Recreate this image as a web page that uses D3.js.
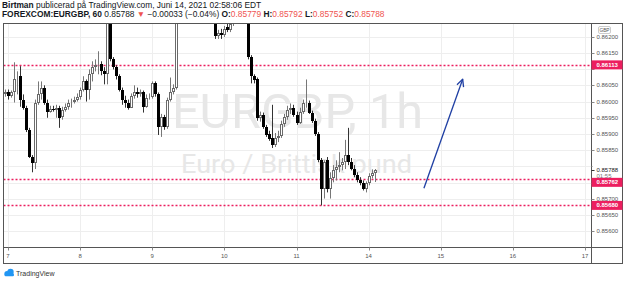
<!DOCTYPE html>
<html><head><meta charset="utf-8">
<script src="https://cdnjs.cloudflare.com/ajax/libs/d3/7.8.5/d3.min.js"></script>
<style>html,body{margin:0;padding:0;background:#fff;}svg{display:block;}</style>
</head><body>
<svg id="c" width="625" height="283"></svg>
<script>
// ---------- DATA (hourly FOREXCOM:EURGBP, bar index 0 = June 7 00:00) ----------
const firstBar = -1;
const opens = [0.86022,0.86028,0.86018,0.86028,0.86068,0.86078,0.86006,0.85981,0.85913,0.85829,0.85810,0.85997,0.86022,0.86043,0.85997,0.85969,0.85978,0.85975,0.85981,0.85953,0.85975,0.85984,0.85994,0.86000,0.86006,0.86015,0.86037,0.86062,0.86037,0.86084,0.86106,0.86112,0.86115,0.86093,0.86084,0.86320,0.86130,0.86106,0.86078,0.86037,0.86006,0.85994,0.85981,0.86018,0.86028,0.86022,0.86028,0.85984,0.86012,0.86015,0.86056,0.86022,0.85922,0.85953,0.85922,0.86006,0.86028,0.86043,0.86300,0.86320,0.86345,0.86360,0.86340,0.86350,0.86380,0.86370,0.86340,0.86320,0.86300,0.86285,0.86275,0.86202,0.86211,0.86205,0.86230,0.86221,0.86239,0.86270,0.86295,0.86310,0.86300,0.86290,0.86137,0.86078,0.86068,0.85950,0.85959,0.85922,0.85900,0.85888,0.85866,0.85888,0.85894,0.85931,0.85953,0.85975,0.85981,0.85959,0.85934,0.85969,0.85994,0.85997,0.85966,0.85941,0.85900,0.85819,0.85732,0.85819,0.85729,0.85763,0.85788,0.85798,0.85804,0.85813,0.85835,0.85813,0.85792,0.85773,0.85757,0.85748,0.85732,0.85748,0.85770,0.85779];
const highs = [0.86037,0.86037,0.86034,0.86121,0.86093,0.86109,0.86022,0.85987,0.85919,0.85835,0.86006,0.86062,0.86062,0.86050,0.86006,0.85987,0.85987,0.85990,0.85987,0.85984,0.85994,0.86006,0.86009,0.86015,0.86025,0.86043,0.86078,0.86068,0.86099,0.86124,0.86130,0.86155,0.86124,0.86106,0.86350,0.86340,0.86137,0.86112,0.86084,0.86043,0.86018,0.86006,0.86025,0.86050,0.86043,0.86037,0.86034,0.86022,0.86025,0.86062,0.86062,0.86028,0.85962,0.85959,0.86012,0.86074,0.86053,0.86320,0.86340,0.86360,0.86380,0.86390,0.86370,0.86400,0.86410,0.86390,0.86360,0.86345,0.86320,0.86300,0.86290,0.86221,0.86224,0.86233,0.86239,0.86261,0.86301,0.86310,0.86330,0.86340,0.86320,0.86310,0.86143,0.86084,0.86074,0.85969,0.85966,0.85928,0.85910,0.85990,0.85903,0.85910,0.85941,0.85962,0.85987,0.85994,0.85990,0.85969,0.85981,0.86006,0.86068,0.86003,0.85972,0.85947,0.85906,0.85826,0.85819,0.85829,0.85782,0.85804,0.85819,0.85844,0.85826,0.85882,0.85919,0.85826,0.85804,0.85782,0.85767,0.85757,0.85754,0.85779,0.85791,0.85792];
const lows = [0.86015,0.86006,0.86012,0.85997,0.86022,0.85984,0.85975,0.85906,0.85826,0.85782,0.85792,0.85990,0.86006,0.85990,0.85950,0.85966,0.85969,0.85950,0.85919,0.85944,0.85969,0.85975,0.85981,0.85994,0.86000,0.86006,0.86031,0.86000,0.86006,0.86062,0.86093,0.86084,0.86081,0.86053,0.86053,0.86124,0.86099,0.86068,0.86031,0.85990,0.85981,0.85975,0.85981,0.86009,0.86012,0.86015,0.85966,0.85981,0.86006,0.86009,0.86015,0.85897,0.85891,0.85913,0.85916,0.86000,0.86022,0.86037,0.86275,0.86300,0.86320,0.86330,0.86310,0.86330,0.86350,0.86330,0.86300,0.86290,0.86270,0.86262,0.86193,0.86193,0.86193,0.86199,0.86214,0.86214,0.86233,0.86255,0.86280,0.86290,0.86270,0.86130,0.86056,0.86056,0.85941,0.85938,0.85916,0.85891,0.85879,0.85857,0.85860,0.85875,0.85888,0.85922,0.85944,0.85962,0.85953,0.85928,0.85931,0.85962,0.85981,0.85962,0.85934,0.85894,0.85813,0.85680,0.85701,0.85720,0.85701,0.85751,0.85757,0.85782,0.85788,0.85792,0.85804,0.85788,0.85767,0.85751,0.85742,0.85726,0.85720,0.85742,0.85763,0.85752];
const closes = [0.86028,0.86018,0.86028,0.86068,0.86074,0.86006,0.85981,0.85913,0.85829,0.85810,0.85997,0.86022,0.86043,0.85997,0.85969,0.85978,0.85975,0.85981,0.85950,0.85975,0.85984,0.85994,0.86000,0.86006,0.86015,0.86037,0.86062,0.86037,0.86084,0.86106,0.86112,0.86115,0.86093,0.86084,0.86320,0.86130,0.86106,0.86078,0.86037,0.86006,0.85994,0.85981,0.86018,0.86028,0.86022,0.86028,0.85984,0.86012,0.86015,0.86056,0.86022,0.85922,0.85953,0.85922,0.86006,0.86028,0.86043,0.86300,0.86320,0.86345,0.86360,0.86340,0.86350,0.86380,0.86370,0.86340,0.86320,0.86300,0.86285,0.86275,0.86202,0.86211,0.86205,0.86224,0.86221,0.86239,0.86270,0.86295,0.86310,0.86300,0.86290,0.86137,0.86078,0.86065,0.85950,0.85959,0.85922,0.85897,0.85885,0.85866,0.85888,0.85894,0.85931,0.85953,0.85975,0.85981,0.85959,0.85934,0.85969,0.85994,0.85997,0.85966,0.85941,0.85900,0.85819,0.85732,0.85813,0.85729,0.85763,0.85788,0.85798,0.85804,0.85813,0.85835,0.85813,0.85792,0.85773,0.85757,0.85748,0.85732,0.85748,0.85770,0.85779,0.85788];

const dayTicks  = [0, 24, 48, 72, 96, 120, 144, 168, 192];
const dayLabels = ["7", "8", "9", "10", "11", "14", "15", "16", "17"];
const priceTicks = [0.85600,0.85650,0.85700,0.85750,0.85800,0.85850,0.85900,0.85950,0.86000,0.86050,0.86100,0.86150,0.86200];
const levels = [0.86113, 0.85762, 0.85680];
const lastPrice = 0.85788;
const countdown = "01:55";
const arrowFrom = [138.4, 0.85733];
const arrowTo   = [151.3, 0.86069];
const headerLine1 = ["Birtman", " publicerad på TradingView.com, Juni 14, 2021 02:58:06 EDT"];
const symbolText = "FOREXCOM:EURGBP, 60";
const changeText = "−0.00033 (−0.04%)";
const watermark1 = "EURGBP, 1h";
const watermark2 = "Euro / Brittisk pund";

// ---------- LAYOUT ----------
const L = 3.5, R = 591.5, T = 23.5, B = 247.5, FB = 263.5, RF = 622.5;
const svg = d3.select("#c");
const font = "'Liberation Sans', Arial, sans-serif";
const x = d3.scaleLinear().domain([0, 192]).range([8, 585]);
const y = d3.scaleLinear().domain([0.856, 0.862]).range([231.35, 36.65]);
const fmt = d3.format(".5f");
const red = "#ec1e5f";

svg.append("rect").attr("width", 625).attr("height", 283).attr("fill", "#fff");

// header
const h1 = svg.append("text").attr("x", 2).attr("y", 7.5).attr("font-family", font).attr("font-size", 8.4).attr("fill", "#131722");
h1.append("tspan").attr("font-weight", "bold").text(headerLine1[0]);
h1.append("tspan").text(headerLine1[1]);
const n = closes.length - 1;
const h2 = svg.append("text").attr("x", 2).attr("y", 16.5).attr("font-family", font).attr("font-size", 8.4).attr("fill", "#131722");
h2.append("tspan").attr("font-weight", "bold").text(symbolText);
h2.append("tspan").text(" " + fmt(closes[n]) + " ");
h2.append("tspan").attr("fill", "#ef5350").text("▼");
h2.append("tspan").text(" " + changeText + " ");
[["O:", opens[n]], ["H:", highs[n]], ["L:", lows[n]], ["C:", closes[n]]].forEach((p, k) => {
  h2.append("tspan").attr("font-weight", "bold").text((k ? " " : "") + p[0]);
  h2.append("tspan").attr("fill", "#ef5350").text(fmt(p[1]));
});

// grid
const grid = svg.append("g").attr("stroke", "#eeeeee").attr("stroke-width", 1);
grid.selectAll("line.v").data(dayTicks).join("line")
  .attr("x1", d => Math.round(x(d)) + 0.5).attr("x2", d => Math.round(x(d)) + 0.5)
  .attr("y1", T).attr("y2", B);
grid.selectAll("line.h").data(priceTicks).join("line")
  .attr("x1", L).attr("x2", R)
  .attr("y1", d => Math.round(y(d)) + 0.5).attr("y2", d => Math.round(y(d)) + 0.5);

// watermark
svg.append("text").attr("x", 172).attr("y", 128).attr("font-family", "Roboto, sans-serif")
  .attr("font-size", 49).attr("fill", "#e7e7e7").attr("textLength", 251).attr("lengthAdjust", "spacingAndGlyphs").text(watermark1);
svg.append("text").attr("x", 181).attr("y", 173).attr("font-family", "Roboto, sans-serif")
  .attr("font-size", 25).attr("fill", "#e7e7e7").attr("textLength", 231).attr("lengthAdjust", "spacingAndGlyphs").text(watermark2);

// clip
svg.append("clipPath").attr("id", "plot").append("rect").attr("x", L + 0.5).attr("y", T + 0.5).attr("width", R - L - 1).attr("height", B - T - 1);
const plot = svg.append("g").attr("clip-path", "url(#plot)");

// level lines
plot.selectAll("line.lvl").data(levels).join("line")
  .attr("x1", L).attr("x2", R)
  .attr("y1", d => Math.round(y(d)) + 0.5).attr("y2", d => Math.round(y(d)) + 0.5)
  .attr("stroke", red).attr("stroke-width", 1.5).attr("stroke-dasharray", "2 2");

// candles
const bars = opens.map((o, k) => ({ i: firstBar + k, o, h: highs[k], l: lows[k], c: closes[k] }));
const cg = plot.append("g");
const cx = d => Math.round(x(d.i)) + 0.5;
cg.selectAll("line.w").data(bars).join("line")
  .attr("x1", cx).attr("x2", cx)
  .attr("y1", d => y(d.h)).attr("y2", d => y(d.l))
  .attr("stroke", d => d.c >= d.o ? "#777" : "#333").attr("stroke-width", 1);
cg.selectAll("rect.dn").data(bars.filter(d => d.c < d.o)).join("rect")
  .attr("x", d => cx(d) - 1.5).attr("width", 3)
  .attr("y", d => Math.round(y(d.o)))
  .attr("height", d => Math.max(1, Math.round(y(d.c)) - Math.round(y(d.o))))
  .attr("fill", "#000");
cg.selectAll("rect.up").data(bars.filter(d => d.c >= d.o)).join("rect")
  .attr("x", d => cx(d) - 1).attr("width", 2)
  .attr("y", d => Math.round(y(d.c)) + 0.5)
  .attr("height", d => Math.max(0, Math.round(y(d.o)) - Math.round(y(d.c)) - 1))
  .attr("fill", "#fff").attr("stroke", "#6a6a6a").attr("stroke-width", 1);

// arrow
const ax1 = x(arrowFrom[0]), ay1 = y(arrowFrom[1]), ax2 = x(arrowTo[0]), ay2 = y(arrowTo[1]);
const ang = Math.atan2(ay2 - ay1, ax2 - ax1), hl = 8, hw = 0.45;
const blue = "#1f3fa3";
plot.append("line").attr("x1", ax1).attr("y1", ay1).attr("x2", ax2).attr("y2", ay2).attr("stroke", blue).attr("stroke-width", 1.3);
plot.append("path")
  .attr("d", `M${ax2 - hl * Math.cos(ang - hw)},${ay2 - hl * Math.sin(ang - hw)}L${ax2},${ay2}L${ax2 - hl * Math.cos(ang + hw)},${ay2 - hl * Math.sin(ang + hw)}`)
  .attr("fill", "none").attr("stroke", blue).attr("stroke-width", 1.3).attr("stroke-linejoin", "round");

// frame
const frame = svg.append("g").attr("stroke", "#555").attr("stroke-width", 1).attr("fill", "none");
frame.append("rect").attr("x", L).attr("y", T).attr("width", RF - L).attr("height", FB - T);
frame.append("line").attr("x1", L).attr("x2", RF).attr("y1", B).attr("y2", B);
frame.append("line").attr("x1", R).attr("x2", R).attr("y1", T).attr("y2", FB);

// time axis
const tx = svg.append("g").attr("font-family", font).attr("font-size", 6).attr("fill", "#555");
tx.selectAll("line").data(dayTicks).join("line")
  .attr("x1", d => Math.round(x(d)) + 0.5).attr("x2", d => Math.round(x(d)) + 0.5)
  .attr("y1", B).attr("y2", B + 3).attr("stroke", "#888");
tx.selectAll("text").data(dayTicks).join("text")
  .attr("x", d => x(d)).attr("y", B + 10.5).attr("text-anchor", "middle")
  .text((d, k) => dayLabels[k]);

// label boxes on the price axis (computed first so covered tick labels are skipped)
const lastY = y(lastPrice);
const lastBlock = { top: lastY - 4.5, bottom: lastY + 7.5 };
const boxes = [lastBlock];
const levelBoxes = levels.map(v => {
  const ly = y(v);
  let top = ly - 4.5;
  if (top < lastBlock.bottom && top + 9 > lastBlock.top) top = ly >= lastY ? lastBlock.bottom : lastBlock.top - 9;
  const b = { v, top, bottom: top + 9 };
  boxes.push(b);
  return b;
});
const covered = d => boxes.some(b => y(d) > b.top - 1 && y(d) < b.bottom + 1);

// price axis
const px = svg.append("g").attr("font-family", font).attr("font-size", 6).attr("fill", "#555");
px.selectAll("line").data(priceTicks).join("line")
  .attr("x1", R).attr("x2", R + 3)
  .attr("y1", d => Math.round(y(d)) + 0.5).attr("y2", d => Math.round(y(d)) + 0.5).attr("stroke", "#888");
px.selectAll("text").data(priceTicks.filter(d => !covered(d))).join("text")
  .attr("x", R + 5).attr("y", d => y(d) + 2.1).text(d => fmt(d));

// GBP box
svg.append("rect").attr("x", 598.5).attr("y", 26.5).attr("width", 12).attr("height", 7).attr("rx", 1.5)
  .attr("fill", "#fff").attr("stroke", "#ccc");
svg.append("text").attr("x", 604.5).attr("y", 32).attr("text-anchor", "middle").attr("font-family", font)
  .attr("font-size", 4.8).attr("fill", "#555").text("GBP");

// last price label
svg.append("rect").attr("x", R + 1).attr("y", lastBlock.top).attr("width", RF - R - 1.5).attr("height", lastBlock.bottom - lastBlock.top).attr("fill", "#fff");
svg.append("line").attr("x1", R).attr("x2", R + 3).attr("y1", Math.round(lastY) + 0.5).attr("y2", Math.round(lastY) + 0.5).attr("stroke", "#333");
svg.append("text").attr("x", R + 5).attr("y", lastY + 2.1).attr("font-family", font).attr("font-size", 6).attr("fill", "#222").text(fmt(lastPrice));
svg.append("text").attr("x", R + 5).attr("y", lastY + 8.1).attr("font-family", font).attr("font-size", 6).attr("fill", "#777").text(countdown);

// level labels
levelBoxes.forEach(b => {
  svg.append("rect").attr("x", R).attr("y", b.top).attr("width", RF - R).attr("height", 9).attr("fill", red);
  svg.append("text").attr("x", R + 5).attr("y", b.top + 6.6).attr("font-family", font).attr("font-size", 6)
    .attr("font-weight", "bold").attr("fill", "#fff").text(fmt(b.v));
});

// TradingView logo
const lg = svg.append("g").attr("fill", "#2196f3");
lg.append("circle").attr("cx", 7).attr("cy", 273.5).attr("r", 2.6);
lg.append("circle").attr("cx", 10.5).attr("cy", 272).attr("r", 3.2);
lg.append("rect").attr("x", 4.5).attr("y", 273.5).attr("width", 9.5).attr("height", 2.8).attr("rx", 1.2);
svg.append("text").attr("x", 16).attr("y", 276).attr("font-family", font).attr("font-size", 7).attr("fill", "#333").text("TradingView");
</script>
</body></html>
